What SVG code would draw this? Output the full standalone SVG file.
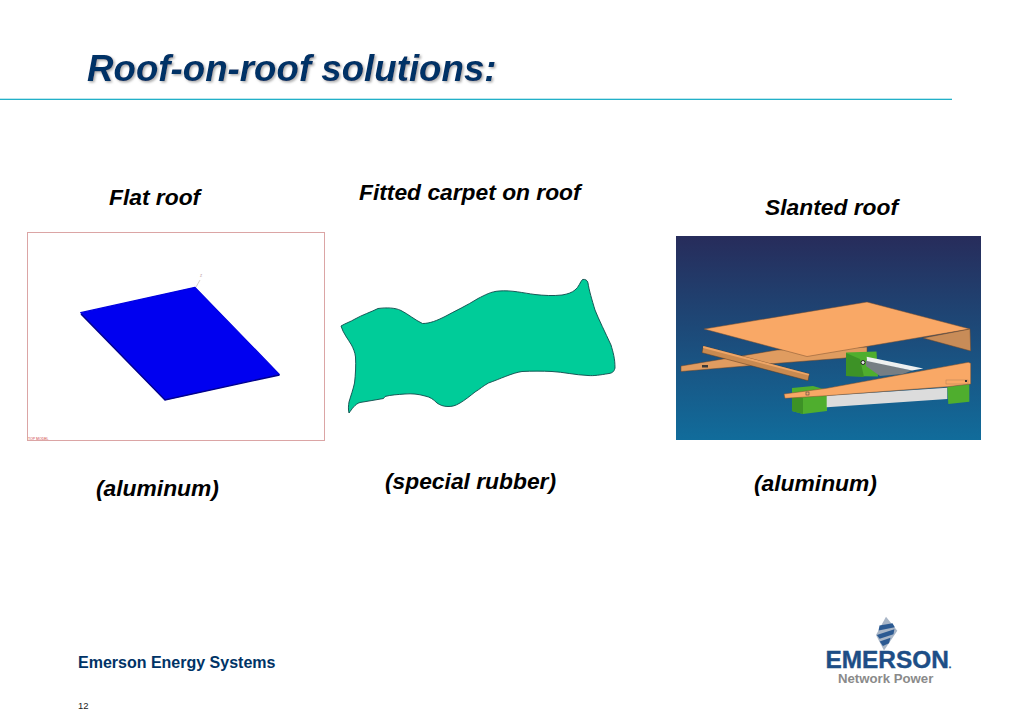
<svg xmlns="http://www.w3.org/2000/svg" width="1024" height="724" viewBox="0 0 1024 724">
<style>
text{font-family:"Liberation Sans",Arial,sans-serif}
.lab{font-size:22.800px;font-weight:bold;font-style:italic;fill:#000}
.o{fill:#f9a866;stroke:#7a5030;stroke-width:.5}
.od{fill:#c88c58;stroke:#6a4528;stroke-width:.5}
.om{fill:#e09c60;stroke:#6a4528;stroke-width:.5}
.g{fill:#4fae2e}
.gd{fill:#3d9226}
</style>
<defs>
<linearGradient id="bg" x1="0" y1="0" x2="0" y2="1"><stop offset="0" stop-color="#272c5b"/><stop offset="1" stop-color="#116c9b"/></linearGradient>
<filter id="sh" x="-5%" y="-20%" width="110%" height="150%"><feDropShadow dx="1.500" dy="1.500" stdDeviation="1" flood-color="#888" flood-opacity=".7"/></filter>
</defs>
<rect width="1024" height="724" fill="#fff"/>
<g id="title">
<text x="87" y="81" font-size="36.700" font-weight="bold" font-style="italic" fill="#003366" filter="url(#sh)">Roof-on-roof solutions:</text>
<rect x="0" y="98.700" width="952" height="1.300" fill="#22b0c8"/>
</g>
<g id="flat-roof">
<text class="lab" x="109" y="205">Flat roof</text>
<rect x="27.500" y="232.500" width="297" height="208" fill="#fff" stroke="#dba5a5"/>
<path d="M196 287L198 283.500L200 280" fill="none" stroke="#c8c0b0" stroke-width=".7"/>
<text x="200" y="277" font-size="3.500" fill="#b09090">Z</text>
<polygon points="80.700,312.700 195,287.300 279.300,374.300 165,399.700" fill="#0000f0" stroke="#0000e0" stroke-width="1.200" stroke-linejoin="round"/>
<path d="M81 314L165 400L279.500 375" fill="none" stroke="#00008c" stroke-width="1.400"/>
<text x="28" y="439.500" font-size="3.500" fill="#d04040">TOP MODEL</text>
<text class="lab" x="96" y="496">(aluminum)</text>
</g>
<g id="carpet">
<text class="lab" x="359" y="200">Fitted carpet on roof</text>
<path d="M341 326C346 323 350 322 355 319C362 315 371 312 378 308.500C386 307.500 395 307.500 401 310.500C408 314 415 320 422.500 323.500C430 323.500 437 320.500 445 316.500C455 311 467 305.500 478 298.500C485 295 491 291.500 499 291C512 290 523 293 535 294.500C544 295.500 553 296 562 295C568 294 572 292.500 575 290C579 287 580 282 582.500 279.500C585 279 587.500 280 588 283C589 290 592 300 595 310C599 320 605 332 611 345C613 352 615 358 615 368C614 372 612 373 609 373.500C600 375 594 376 588 375.500C575 375 563 372 552 371.500C542 371 532 371 522 371.500C512 373 500 379 488.500 383C483 386 480 389 475 392C470 396 465 400 460 403C455 406 452 406.500 448 406.500C443 406.500 440 405 437 403C433 399 430 397 425 396C418 394 412 393.500 405 394C398 394.500 390 395 385 396.500L383.500 398.500C376 400 368 401 360 402.500C355 404 352 409 349 413C348 409 348.500 405 349 402C351 395 353 390 354.500 383C355.500 375 356 365 355.500 357C355 352 353 348 351.500 345C348 339 343 333 341 326Z" fill="#00cc99" stroke="#0c4a4a" stroke-width=".9"/>
<text class="lab" x="385" y="489">(special rubber)</text>
</g>
<g id="slanted-roof">
<text class="lab" x="765" y="215">Slanted roof</text>
<rect x="676" y="236" width="305" height="204" fill="url(#bg)"/>
<polygon class="om" points="681,366 777,350 867,347 867,352.500 845,358 781,363 681,371.500"/>
<polygon points="703.300,346 809.300,374 808,380.700 702,352.700" fill="#c98a50" stroke="#5b3a20" stroke-width=".5"/>
<polygon points="703.300,346 809.300,374 808.500,375.500 703,348" fill="#eea667"/>
<rect x="702" y="365" width="6" height="2.500" fill="#3a3a3a"/>
<polygon class="g" points="846,352.500 876.500,351.500 878,376.500 846,376"/>
<polygon class="gd" points="846,353 860,359 864,377 846,376"/>
<polygon points="866,360 912,370.500 903,374 880,376 866,366" fill="#767e84"/>
<polygon points="866.700,356.700 923.300,368.500 912,370.500 867,361" fill="#eef0f0"/>
<circle cx="863" cy="362.500" r="2" fill="#e8e8e8" stroke="#222"/>
<polygon class="o" points="704,329 867,302 970,329 807,356.500"/>
<polygon class="od" points="970,329 970.700,351 923,338"/>
<polygon class="g" points="792,388 813,386 827,390 827,411 803,414 792,411"/>
<polygon class="gd" points="792,394 803,398 803,414 792,411"/>
<polygon points="826.700,395.700 947.300,387.700 947.300,399 826.700,407.300" fill="#dcdcdc"/>
<polygon class="g" points="947.300,386.700 969.300,384 969.300,401.700 948.300,404"/>
<polygon class="o" points="784,394 826.700,388.300 968.300,362.300 970.700,363.300 970.700,384 947.300,386.700 826.700,395.700 785,398.300"/>
<rect x="946" y="380" width="22" height="4" fill="none" stroke="#a07850" stroke-width=".4"/>
<rect x="965" y="380" width="2" height="2" fill="#333"/>
<rect x="806" y="392" width="3" height="3" fill="none" stroke="#444" stroke-width=".6"/>
<text class="lab" x="754" y="491">(aluminum)</text>
</g>
<g id="footer">
<text x="78" y="668" font-size="16" font-weight="bold" fill="#003366">Emerson Energy Systems</text>
<text x="78" y="709" font-size="9.500" fill="#222">12</text>
</g>
<g id="logo">
<polygon points="886,616.700 897.300,630.700 884,650.500 876,635" fill="#a9b6c7"/>
<polygon points="880,623.500 893,625.500 894,630 877.500,628" fill="#2c5a92" transform="rotate(-18 886 626)"/>
<polygon points="877,632 895.500,632 893,636.500 878.500,636.500" fill="#2c5a92" transform="rotate(-18 886 634)"/>
<polygon points="880,640 891.500,639 888.500,644 882,645" fill="#2c5a92" transform="rotate(-15 886 642)"/>
<text x="825.500" y="667.500" font-size="24.400" font-weight="bold" fill="#1d4e86" stroke="#1d4e86" stroke-width=".4">EMERSON<tspan font-size="9">.</tspan></text>
<text x="838" y="683" font-size="13.200" font-weight="bold" fill="#8a8a8a">Network Power</text>
</g>
</svg>
